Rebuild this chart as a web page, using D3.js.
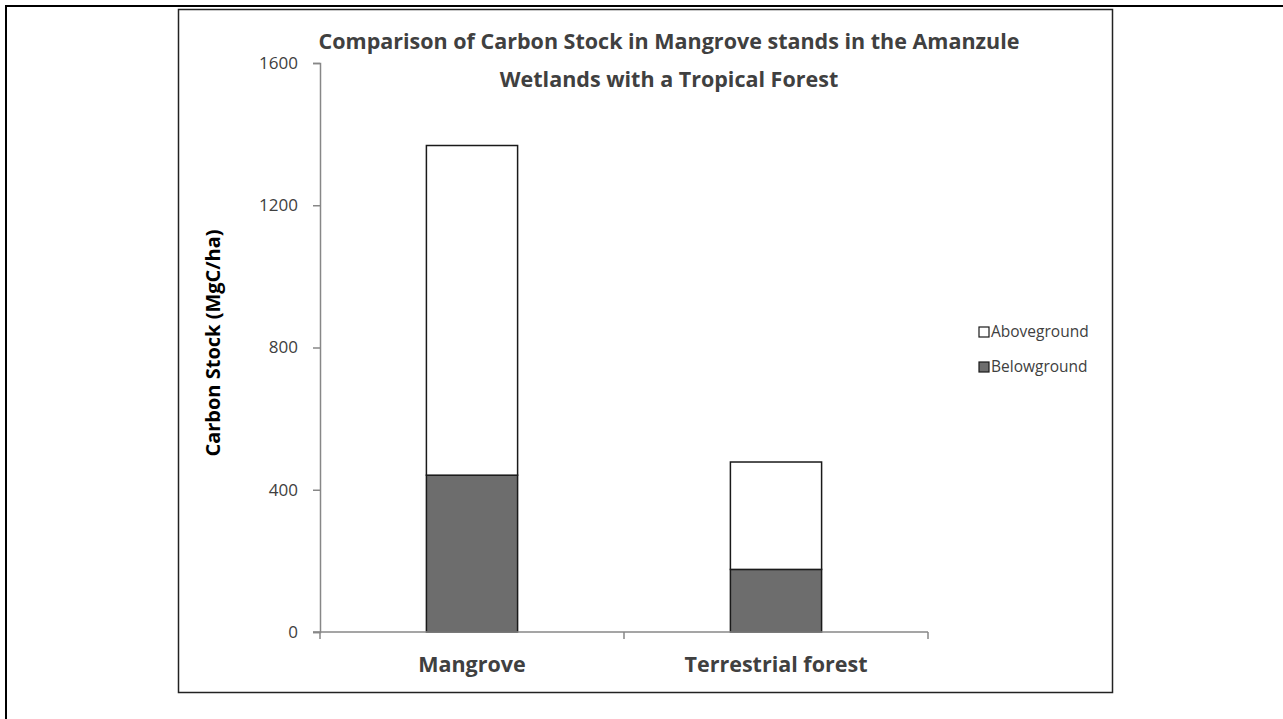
<!DOCTYPE html>
<html>
<head>
<meta charset="utf-8">
<script src="https://cdn.jsdelivr.net/npm/d3@7"></script>
<style>
  html, body { margin: 0; padding: 0; background: #fff; }
  svg text { font-family: 'Open Sans', 'Noto Sans', sans-serif; }
</style>
</head>
<body>
<div id="chart"></div>
<script>
// Carbon stock, stacked: belowground at the bottom, aboveground on top.
const categories = ['Mangrove', 'Terrestrial forest'];
const belowground = [441, 176];
const aboveground = [927, 302];
const seriesNames = ['Belowground', 'Aboveground'];
const yTicks = [0, 400, 800, 1200, 1600];
const titleLines = [
  'Comparison of Carbon Stock in Mangrove stands in the Amanzule',
  'Wetlands with a Tropical Forest'
];

const width = 1283;
const height = 719;
const plot = { left: 320, right: 928, top: 63, bottom: 632 };
const textColour = '#404040';
const axisColour = '#878787';

const svg = d3.select('#chart')
  .append('svg')
  .attr('width', width)
  .attr('height', height);

// page frame and chart area border
svg.append('rect')
  .attr('x', 6).attr('y', 6)
  .attr('width', width + 20).attr('height', height + 20)
  .attr('fill', 'none').attr('stroke', '#000').attr('stroke-width', 2);

svg.append('rect')
  .attr('x', 178.5).attr('y', 9.5)
  .attr('width', 934).attr('height', 683)
  .attr('fill', 'none').attr('stroke', '#222').attr('stroke-width', 1.5);

const rows = categories.map((c, i) => ({ category: c, Belowground: belowground[i], Aboveground: aboveground[i] }));
const stacked = d3.stack().keys(seriesNames)(rows);

const y = d3.scaleLinear().domain([0, 1600]).range([plot.bottom, plot.top]);
const xSlots = d3.scaleBand().domain(categories).range([plot.left, plot.right]);
const x = d3.scaleBand().domain(categories).range([plot.left, plot.right])
  .paddingInner(0.7).paddingOuter(0.35);

const fills = { Belowground: '#6d6d6d', Aboveground: '#ffffff' };

// bars
svg.append('g')
  .selectAll('g')
  .data(stacked)
  .join('g')
  .attr('fill', (d) => fills[d.key])
  .selectAll('rect')
  .data((d) => d)
  .join('rect')
  .attr('x', (d) => x(d.data.category))
  .attr('y', (d) => y(d[1]))
  .attr('width', x.bandwidth())
  .attr('height', (d) => y(d[0]) - y(d[1]))
  .attr('stroke', '#1a1a1a')
  .attr('stroke-width', 1.5);

// y axis
const yAxis = svg.append('g')
  .attr('transform', `translate(${plot.left},0)`)
  .call(d3.axisLeft(y).tickValues(yTicks).tickSize(7).tickPadding(15).tickFormat(d3.format('d')));
yAxis.select('.domain').attr('stroke', axisColour).attr('stroke-width', 1.5);
yAxis.selectAll('line').attr('stroke', axisColour).attr('stroke-width', 1.5);
yAxis.selectAll('text')
  .attr('fill', textColour)
  .attr('font-size', 17)
  .attr('font-family', "'Open Sans', sans-serif");

// x axis: ticks at slot boundaries
const xAxis = svg.append('g')
  .attr('transform', `translate(0,${plot.bottom})`);
xAxis.append('line')
  .attr('x1', plot.left - 7).attr('x2', plot.right)
  .attr('stroke', axisColour).attr('stroke-width', 1.5);
const boundaries = [plot.left].concat(categories.map((c) => xSlots(c) + xSlots.bandwidth()));
xAxis.selectAll('line.tick')
  .data(boundaries)
  .join('line')
  .attr('class', 'tick')
  .attr('x1', (d) => d).attr('x2', (d) => d)
  .attr('y1', 0).attr('y2', 7)
  .attr('stroke', axisColour).attr('stroke-width', 1.5);
xAxis.selectAll('text')
  .data(categories)
  .join('text')
  .attr('x', (d) => xSlots(d) + xSlots.bandwidth() / 2)
  .attr('y', 40)
  .attr('text-anchor', 'middle')
  .attr('fill', textColour)
  .attr('font-size', 21.5)
  .attr('font-weight', 'bold')
  .text((d) => d);

// y axis title
svg.append('text')
  .attr('transform', 'translate(220,343) rotate(-90)')
  .attr('text-anchor', 'middle')
  .attr('fill', '#000')
  .attr('font-size', 20)
  .attr('font-weight', 'bold')
  .text('Carbon Stock  (MgC/ha)');

// title
svg.append('g')
  .selectAll('text')
  .data(titleLines)
  .join('text')
  .attr('x', 669)
  .attr('y', (d, i) => 49 + i * 38)
  .attr('text-anchor', 'middle')
  .attr('fill', textColour)
  .attr('font-size', 21.5)
  .attr('font-weight', 'bold')
  .text((d) => d);

// legend
const legend = svg.append('g').attr('transform', 'translate(979,332)');
const legendItems = ['Aboveground', 'Belowground'];
const item = legend.selectAll('g')
  .data(legendItems)
  .join('g')
  .attr('transform', (d, i) => `translate(0,${i * 35})`);
item.append('rect')
  .attr('x', 0).attr('y', -5)
  .attr('width', 10).attr('height', 10)
  .attr('fill', (d) => fills[d])
  .attr('stroke', '#1a1a1a')
  .attr('stroke-width', 1.2);
item.append('text')
  .attr('x', 12)
  .attr('dy', '0.35em')
  .attr('fill', textColour)
  .attr('font-size', 15.5)
  .text((d) => d);
</script>
</body>
</html>
